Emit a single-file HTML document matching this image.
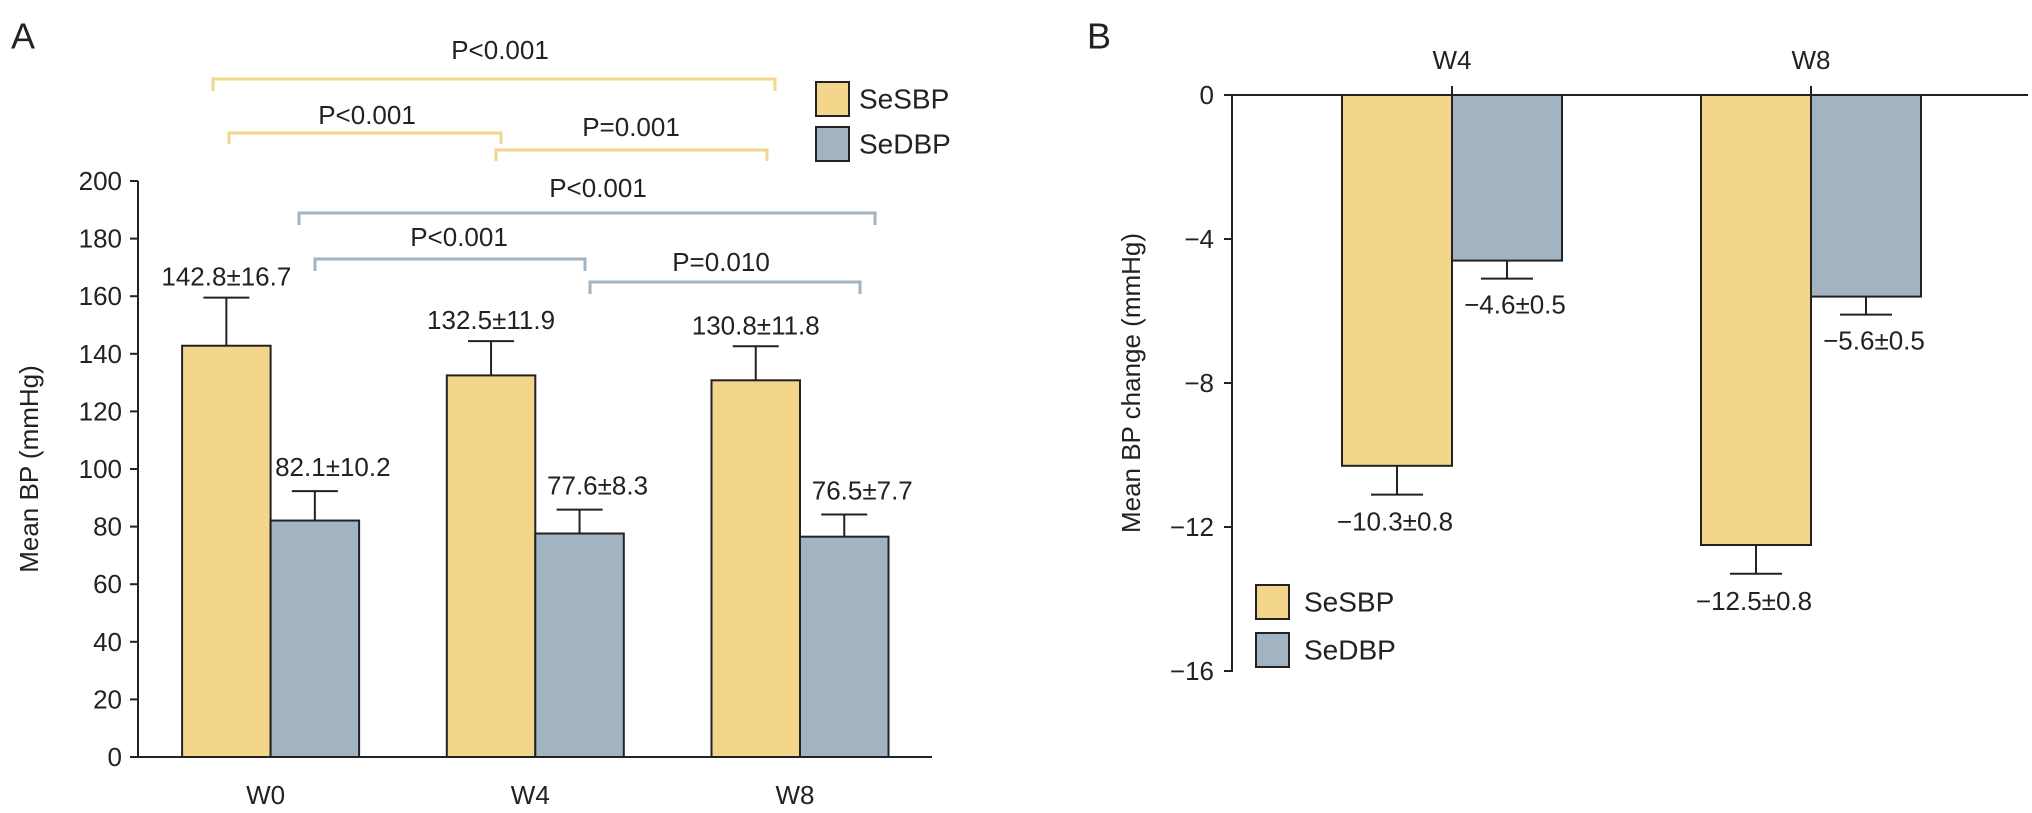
<!DOCTYPE html>
<html><head><meta charset="utf-8"><style>
html,body{margin:0;padding:0;background:#fff}
svg text{font-family:"Liberation Sans",Arial,sans-serif;fill:#222}
</style></head><body>
<svg id="c" width="2032" height="808" viewBox="0 0 2032 808" xmlns="http://www.w3.org/2000/svg"></svg>
<script>
const catsA = ["W0","W4","W8"];
const sbpA = [142.8,132.5,130.8];
const sbpErrA = [16.7,11.9,11.8];
const dbpA = [82.1,77.6,76.5];
const dbpErrA = [10.2,8.3,7.7];
const ticksA = [0,20,40,60,80,100,120,140,160,180,200];
const catsB = ["W4","W8"];
const sbpB = [-10.3,-12.5];
const sbpErrB = [0.8,0.8];
const dbpB = [-4.6,-5.6];
const dbpErrB = [0.5,0.5];
const ticksB = [0,-4,-8,-12,-16];
const bracketLabels = ["P<0.001","P<0.001","P=0.001","P<0.001","P<0.001","P=0.010"];

const NS="http://www.w3.org/2000/svg", svg=document.getElementById('c');
const Y="#f3d68c", B="#a2b3c1", K="#222";
const FS=26;
function el(t,a,p){const e=document.createElementNS(NS,t);for(const k in a)e.setAttribute(k,a[k]);(p||svg).appendChild(e);return e;}
function txt(x,y,s,size,anchor,p){const e=el('text',{x:x,y:y,'font-size':size,'text-anchor':anchor||'middle','dominant-baseline':'central'},p);e.textContent=s;return e;}

// Panel A
const gA=el('g',{});


const yA=v=>757-v*2.88;
const cxA=i=>270.6+i*264.7;
const bw=88.5;
let t=txt(11,36,"A",36,'start',gA);

ticksA.forEach(v=>{
  el('line',{x1:130,x2:138,y1:yA(v),y2:yA(v),stroke:K,'stroke-width':2},gA);
  const l=txt(122,yA(v),String(v),FS,'end',gA);
  
});
el('line',{x1:138,x2:138,y1:yA(200),y2:yA(0)+1,stroke:K,'stroke-width':2},gA);
el('line',{x1:137,x2:932,y1:yA(0),y2:yA(0),stroke:K,'stroke-width':2},gA);
t=txt(29,469,"Mean BP (mmHg)",FS,'middle',gA);
t.setAttribute('transform','rotate(-90 29 469)');

function bar(g,x,y0,y1,fill,name,w){const r=el('rect',{x:x,y:Math.min(y0,y1),width:w,height:Math.abs(y1-y0),fill:fill,stroke:K,'stroke-width':2},g);
}
function err(g,x,ya,yb,w){el('line',{x1:x,x2:x,y1:ya,y2:yb,stroke:K,'stroke-width':2},g);el('line',{x1:x-w/2,x2:x+w/2,y1:yb,y2:yb,stroke:K,'stroke-width':2},g);}
catsA.forEach((c,i)=>{
  const cx=cxA(i);
  bar(gA,cx-bw,yA(0),yA(sbpA[i]),Y,'bar-sbp-'+c.toLowerCase(),bw);
  bar(gA,cx,yA(0),yA(dbpA[i]),B,'bar-dbp-'+c.toLowerCase(),bw);
  err(gA,cx-bw/2,yA(sbpA[i]),yA(sbpA[i]+sbpErrA[i]),46);
  err(gA,cx+bw/2,yA(dbpA[i]),yA(dbpA[i]+dbpErrA[i]),46);
  let l=txt(cx-bw/2,yA(sbpA[i]+sbpErrA[i])-21,sbpA[i].toFixed(1)+"±"+sbpErrA[i].toFixed(1),FS,'middle',gA);
  
  l=txt(cx+bw/2+18,yA(dbpA[i]+dbpErrA[i])-24,dbpA[i].toFixed(1)+"±"+dbpErrA[i].toFixed(1),FS,'middle',gA);
  
  l=txt(cx-5,795,c,FS,'middle',gA);
  
});
const br=[[213,775,79,12,Y,500,50],[229,501,133,11,Y,367,115],[496,767,150,11,Y,631,127],[299,875,213,12,B,598,188],[315,585,259,12,B,459,237],[590,860,282,12,B,721,262]];
br.forEach((b,i)=>{
  const p=el('path',{d:`M${b[0]} ${b[2]+b[3]}V${b[2]}H${b[1]}V${b[2]+b[3]}`,fill:'none',stroke:b[4],'stroke-width':3},gA);
  
  const l=txt(b[5],b[6],bracketLabels[i],FS,'middle',gA);
  
});
function legend(g,x,y1,y2,tx){
  let r=el('rect',{x:x,y:y1,width:33,height:34,fill:Y,stroke:K,'stroke-width':2},g);
  
  r=el('rect',{x:x,y:y2,width:33,height:34,fill:B,stroke:K,'stroke-width':2},g);
  
  let l=txt(tx,y1+17,"SeSBP",28,'start',g);
  
  l=txt(tx,y2+17,"SeDBP",28,'start',g);
  
}
legend(gA,816,82,127,859);

// Panel B
const gB=el('g',{});


const yB=v=>95-v*36;
const cxB=i=>1452+i*359;
const bwB=110;
t=txt(1087,36,"B",36,'start',gB);

ticksB.forEach(v=>{
  el('line',{x1:1224,x2:1232,y1:yB(v),y2:yB(v),stroke:K,'stroke-width':2},gB);
  const l=txt(1214,yB(v),v===0?"0":"−"+Math.abs(v),FS,'end',gB);
  
});
el('line',{x1:1232,x2:1232,y1:yB(0),y2:yB(-16)+1,stroke:K,'stroke-width':2},gB);
el('line',{x1:1231,x2:2028,y1:yB(0),y2:yB(0),stroke:K,'stroke-width':2},gB);
t=txt(1131,383,"Mean BP change (mmHg)",FS,'middle',gB);
t.setAttribute('transform','rotate(-90 1131 383)');

catsB.forEach((c,i)=>{
  const cx=cxB(i);
  el('line',{x1:cx,x2:cx,y1:yB(0)-9,y2:yB(0),stroke:K,'stroke-width':2},gB);
  let l=txt(cx,60,c,FS,'middle',gB);
  
  bar(gB,cx-bwB,yB(0),yB(sbpB[i]),Y,'bar-sbp-change-'+c.toLowerCase(),bwB);
  bar(gB,cx,yB(0),yB(dbpB[i]),B,'bar-dbp-change-'+c.toLowerCase(),bwB);
  err(gB,cx-bwB/2,yB(sbpB[i]),yB(sbpB[i]-sbpErrB[i]),52);
  err(gB,cx+bwB/2,yB(dbpB[i]),yB(dbpB[i]-dbpErrB[i]),52);
  l=txt(cx-bwB/2-2,yB(sbpB[i]-sbpErrB[i])+27,"−"+Math.abs(sbpB[i]).toFixed(1)+"±"+sbpErrB[i].toFixed(1),FS,'middle',gB);
  
  l=txt(cx+bwB/2+8,yB(dbpB[i]-dbpErrB[i])+26,"−"+Math.abs(dbpB[i]).toFixed(1)+"±"+dbpErrB[i].toFixed(1),FS,'middle',gB);
  
});
legend(gB,1256,585,633,1304);
</script>
</body></html>
